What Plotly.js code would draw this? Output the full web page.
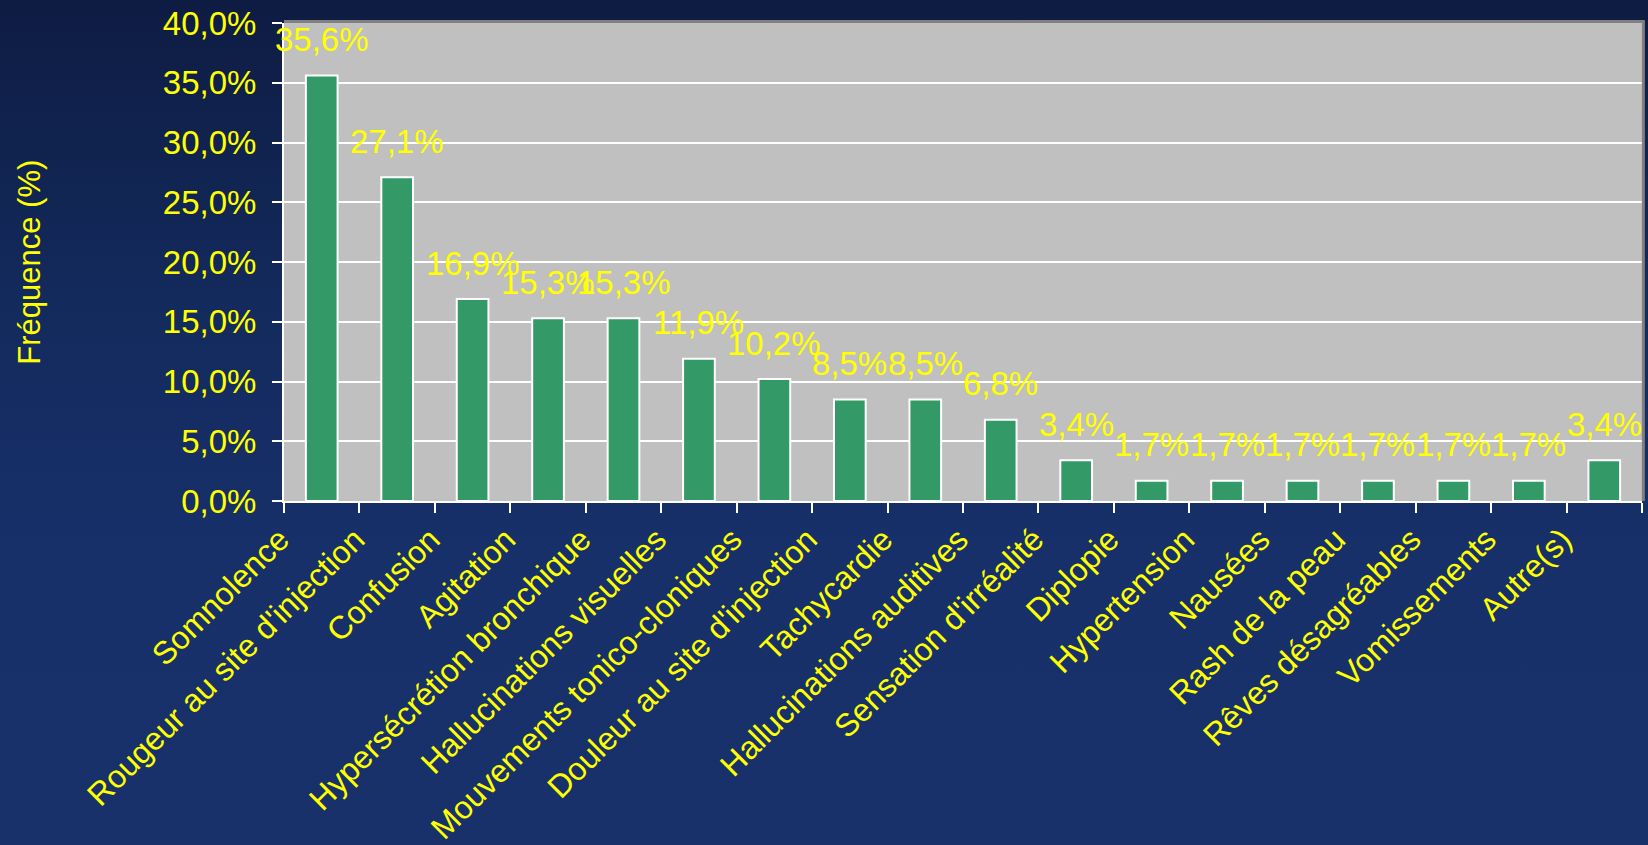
<!DOCTYPE html>
<html>
<head>
<meta charset="utf-8">
<script src="https://cdn.plot.ly/plotly-3.0.1.min.js"></script>
<style>
  html, body { margin: 0; padding: 0; width: 1648px; height: 845px; overflow: hidden; }
  body { background: linear-gradient(to bottom, #0e1c43 0%, #132a5c 35%, #17306a 65%, #18316b 100%); }
  #chart { width: 1648px; height: 845px; }
</style>
</head>
<body>
<div id="chart"></div>
<script>
const categories = [
  "Somnolence",
  "Rougeur au site d'injection",
  "Confusion",
  "Agitation",
  "Hypersécrétion bronchique",
  "Hallucinations visuelles",
  "Mouvements tonico-cloniques",
  "Douleur au site d'injection",
  "Tachycardie",
  "Hallucinations auditives",
  "Sensation d'irréalité",
  "Diplopie",
  "Hypertension",
  "Nausées",
  "Rash de la peau",
  "Rêves désagréables",
  "Vomissements",
  "Autre(s)"
];
const frequencies = [35.6, 27.1, 16.9, 15.3, 15.3, 11.9, 10.2, 8.5, 8.5, 6.8, 3.4, 1.7, 1.7, 1.7, 1.7, 1.7, 1.7, 3.4];
const yAxisTitle = "Fréquence (%)";

const YELLOW = "#ffff00";
const FONT = "Liberation Sans, Arial, sans-serif";

function fmt(v) { return v.toFixed(1).replace('.', ',') + '%'; }

const trace = {
  type: 'bar',
  x: categories,
  y: frequencies,
  width: 0.42,
  marker: { color: '#339966', line: { color: '#ffffff', width: 2 } },
  hoverinfo: 'x+y'
};

const annotations = categories.map((c, i) => ({
  x: c, y: frequencies[i], xref: 'x', yref: 'y',
  text: fmt(frequencies[i]), showarrow: false,
  yanchor: 'middle', yshift: 36,
  font: { family: FONT, size: 33, color: YELLOW }
}));
annotations.push({
  xref: 'paper', yref: 'paper', x: -0.188, y: 0.5,
  xanchor: 'center', yanchor: 'middle', textangle: -90,
  text: yAxisTitle, showarrow: false,
  font: { family: FONT, size: 31, color: YELLOW }
});

const layout = {
  width: 1648, height: 845,
  paper_bgcolor: 'rgba(0,0,0,0)',
  plot_bgcolor: '#c0c0c0',
  margin: { l: 284, r: 6, t: 23, b: 344, pad: 0 },
  separators: ', ',
  showlegend: false,
  font: { family: FONT, size: 32, color: YELLOW },
  xaxis: {
    type: 'category',
    range: [-0.5, categories.length - 0.5],
    tickangle: -45,
    tickson: 'boundaries',
    ticks: 'outside', ticklen: 10, tickwidth: 2, tickcolor: '#ffffff',
    ticklabelshift: -42,
    ticklabelstandoff: 5,
    showline: true, linecolor: '#ffffff', linewidth: 2,
    showgrid: false,
    tickfont: { family: FONT, size: 32, color: YELLOW },
    automargin: false
  },
  yaxis: {
    range: [0, 40], dtick: 5, tick0: 0,
    tickformat: '.1f', ticksuffix: '%',
    ticks: 'outside', ticklen: 10, tickwidth: 2, tickcolor: '#ffffff',
    ticklabelstandoff: 9,
    showline: true, linecolor: '#ffffff', linewidth: 2,
    showgrid: true, gridcolor: '#ffffff', gridwidth: 2,
    zeroline: false,
    tickfont: { family: FONT, size: 33, color: YELLOW },
    automargin: false
  },
  shapes: [
    { type: 'line', xref: 'paper', yref: 'paper', x0: 0, x1: 1.002, y0: 1.003, y1: 1.003, line: { color: '#808080', width: 3 } },
    { type: 'line', xref: 'paper', yref: 'paper', x0: 1.001, x1: 1.001, y0: 0, y1: 1.003, line: { color: '#808080', width: 3 } }
  ],
  annotations: annotations
};

Plotly.newPlot('chart', [trace], layout, { displayModeBar: false, responsive: false });
</script>
</body>
</html>
